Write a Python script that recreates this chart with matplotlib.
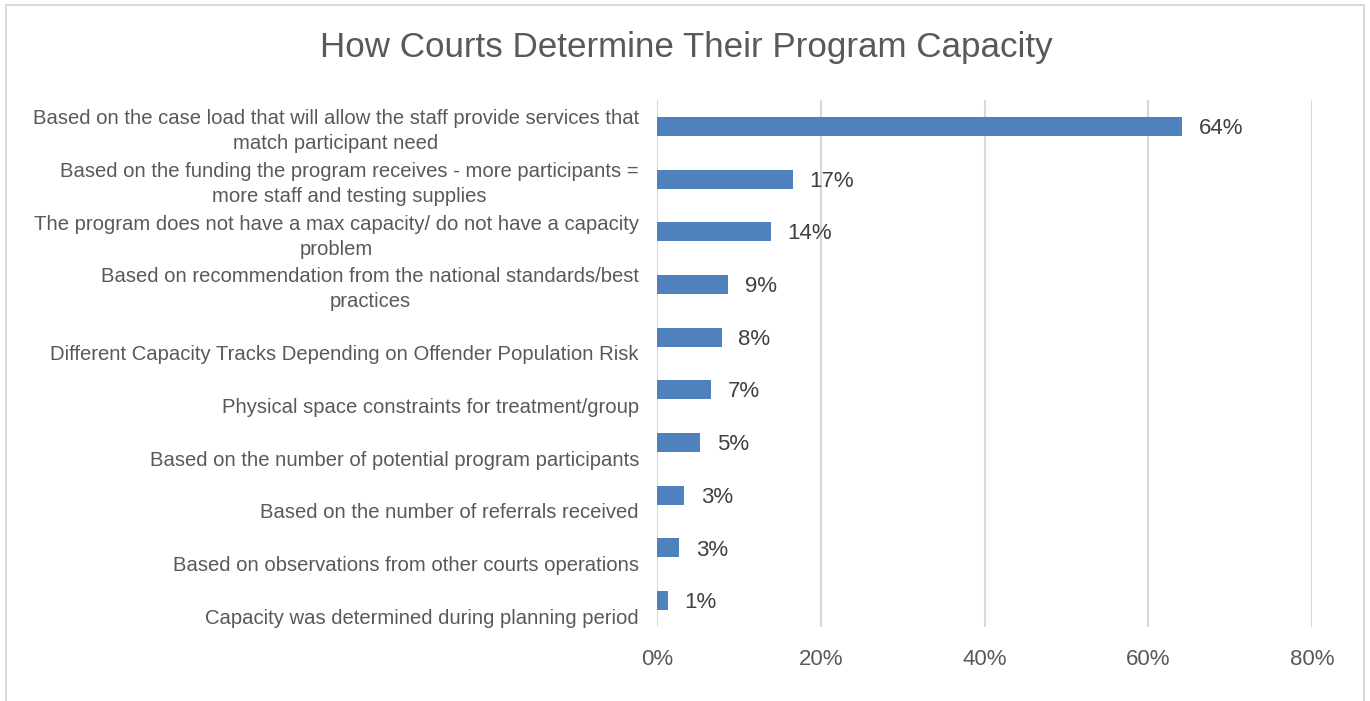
import matplotlib
matplotlib.use('Agg')
import matplotlib.pyplot as plt
import matplotlib.ticker as mticker
from matplotlib.patches import Rectangle

# Survey results: share of courts choosing each approach
categories = [
    "Based on the case load that will allow the staff provide services that\nmatch participant need",
    "Based on the funding the program receives - more participants =\nmore staff and testing supplies",
    "The program does not have a max capacity/ do not have a capacity\nproblem",
    "Based on recommendation from the national standards/best\npractices",
    "Different Capacity Tracks Depending on Offender Population Risk",
    "Physical space constraints for treatment/group",
    "Based on the number of potential program participants",
    "Based on the number of referrals received",
    "Based on observations from other courts operations",
    "Capacity was determined during planning period",
]
shares = [0.641, 0.166, 0.139, 0.087, 0.079, 0.066, 0.053, 0.033, 0.027, 0.013]
x_ticks = [0, 0.2, 0.4, 0.6, 0.8]

BAR = '#4F81BD'
GRID = '#D9D9D9'
TEXT = '#595959'
FONT = ['Liberation Sans', 'DejaVu Sans']

fig = plt.figure(figsize=(13.7, 7.01), dpi=100)
ax = fig.add_axes([657 / 1370, 74 / 701, 655 / 1370, 527 / 701])

pos = list(range(len(categories)))
ax.barh(pos, shares, height=0.36, color=BAR, zorder=3)
ax.set_ylim(len(categories) - 0.5, -0.5)
ax.set_xlim(0, 0.8)

# value labels
for y, v in zip(pos, shares):
    ax.annotate(f'{v:.0%}', (v, y), xytext=(12, -1.5), textcoords='offset points',
                va='center', ha='left', fontsize=16, color='#404040', family=FONT)

# single-line labels sit half a line lower, as if wrapped onto a second line
ylabels = [c if '\n' in c else '\n' + c for c in categories]
ax.set_yticks(pos)
ax.set_yticklabels(ylabels, fontsize=14.6, color=TEXT, family=FONT)
for t in ax.get_yticklabels():
    t.set_multialignment('center')
    t.set_linespacing(1.4)

ax.set_xticks(x_ticks)
ax.xaxis.set_major_formatter(mticker.PercentFormatter(1.0, decimals=0))
for t in ax.get_xticklabels():
    t.set_fontsize(16)
    t.set_color(TEXT)
    t.set_family(FONT)

ax.tick_params(axis='both', length=0)
ax.tick_params(axis='y', pad=13)
ax.tick_params(axis='x', pad=15.5)
ax.grid(axis='x', color=GRID, linewidth=1.5, zorder=0)
for s in ax.spines.values():
    s.set_visible(False)

fig.suptitle('How Courts Determine Their Program Capacity', x=686 / 1370, y=1 - 48 / 701,
             va='center', fontsize=25.2, color=TEXT, family=FONT)

# chart area border
fig.patches.append(Rectangle((6 / 1370, -0.05), 1358 / 1370, 1.05 - 5 / 701,
                             transform=fig.transFigure, fill=False,
                             edgecolor=GRID, linewidth=1.5))

fig.savefig('out.png', dpi=100)
